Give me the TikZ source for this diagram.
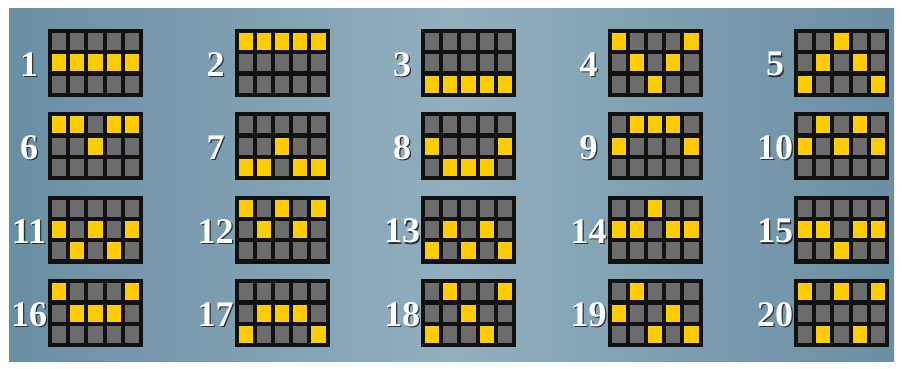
\documentclass[tikz,border=0pt]{standalone}
\usepackage{fontspec}
\setmainfont{Liberation Serif}
\usetikzlibrary{positioning,calc}
\definecolor{reel}{HTML}{6C6C6C}
\definecolor{hit}{HTML}{FFCC00}
\definecolor{frame}{HTML}{111111}
\definecolor{sea}{HTML}{6A8EA2}
\definecolor{seapale}{HTML}{92AFBE}
\definecolor{numedge}{HTML}{26333B}
\newcommand\payno[1]{\makebox[0pt][l]{\hspace{1.3pt}\raisebox{-1.3pt}{\color{numedge}#1}}#1}
\tikzset{
  board/.style={fill=frame, minimum width=95pt, minimum height=68pt, inner sep=0pt, outer sep=0pt},
  lineno/.style={text=white, font=\fontsize{36}{36}\selectfont\bfseries, inner sep=0pt},
}
\begin{document}
\begin{tikzpicture}[x=1pt,y=-1pt]
\useasboundingbox (0,0) rectangle (902,368);
\fill[white] (0,0) rectangle (902,368);
\shade[left color=sea, right color=sea, middle color=seapale] (9,8) rectangle (894,361);
\foreach \n/\c/\r/\pat in {1/0/0/{1,1,1,1,1},2/1/0/{0,0,0,0,0},3/2/0/{2,2,2,2,2},4/3/0/{0,1,2,1,0},5/4/0/{2,1,0,1,2},
  6/0/1/{0,0,1,0,0},7/1/1/{2,2,1,2,2},8/2/1/{1,2,2,2,1},9/3/1/{1,0,0,0,1},10/4/1/{1,0,1,0,1},
  11/0/2/{1,2,1,2,1},12/1/2/{0,1,0,1,0},13/2/2/{2,1,2,1,2},14/3/2/{1,1,0,1,1},15/4/2/{1,1,2,1,1},
  16/0/3/{0,1,1,1,0},17/1/3/{2,1,1,1,2},18/2/3/{2,0,1,2,0},19/3/3/{1,0,2,1,2},20/4/3/{0,2,0,2,0}}{
  \node[board] (g\n) at (95.5+186.5*\c, 63+83.4*\r) {};
  \foreach \lvl [count=\reel from 0] in \pat {
    \foreach \k in {0,1,2}{
      \ifnum\k=\lvl \def\cc{hit}\else\def\cc{reel}\fi
      \fill[\cc] ($(g\n.north west)+(4+18.2*\reel,4+21.3*\k)$) rectangle ++(14.2,17);
    }
  }
  \node[lineno] (n\n) at ($(g\n.west)+(-19,2)$) {\payno{\n}};
}
\end{tikzpicture}
\end{document}
